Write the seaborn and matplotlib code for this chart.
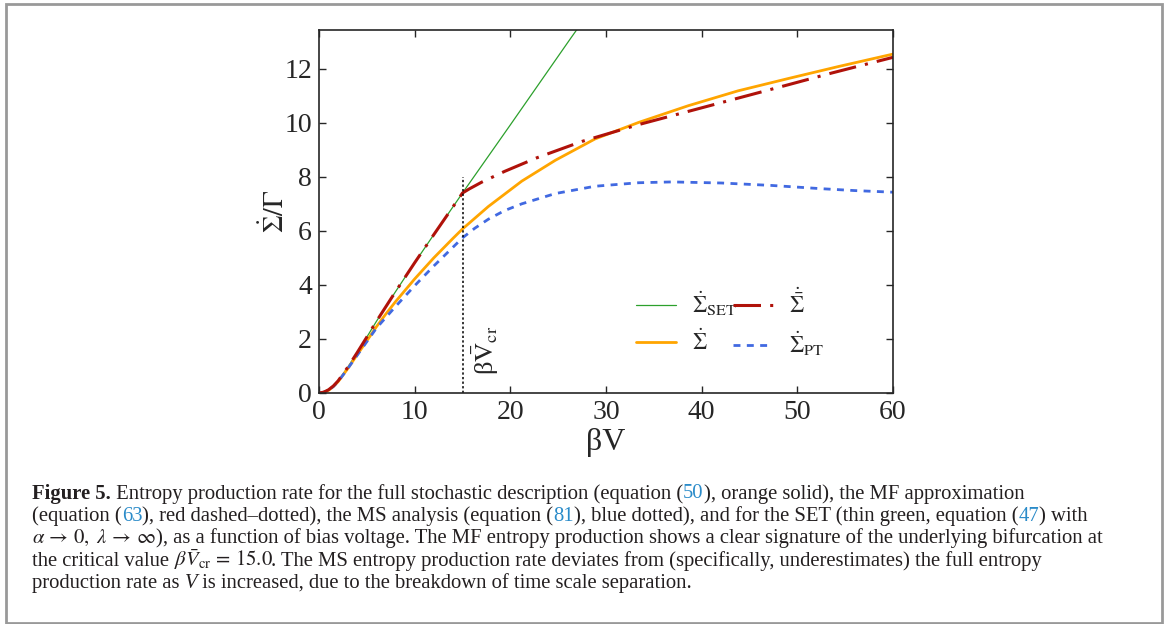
import numpy as np
import pandas as pd
import matplotlib
matplotlib.use("Agg")
import matplotlib.pyplot as plt
import matplotlib.patches as patches
import seaborn as sns

# values
x_set = [0, 0.5, 1, 1.5, 2, 3, 4, 5, 6, 8, 10, 12, 15, 20, 26.2, 28]
y_set = [0, 0.03, 0.12, 0.26, 0.45, 0.95, 1.5, 2.07, 2.65, 3.75, 4.82, 5.86, 7.4, 9.92,
         13.07, 13.97]

x_mf = [0, 0.5, 1, 1.5, 2, 3, 4, 5, 6, 8, 10, 12, 15, 15.7, 17, 19.4, 22.75, 27.5, 33.4,
        38.6, 43.8, 49.1, 53.6, 59, 60]
y_mf = [0, 0.03, 0.12, 0.26, 0.45, 0.95, 1.5, 2.07, 2.65, 3.75, 4.82, 5.86, 7.4, 7.55,
        7.8, 8.2, 8.7, 9.31, 9.93, 10.42, 10.91, 11.41, 11.84, 12.33, 12.42]

x_full = [0, 0.5, 1, 1.5, 2, 3, 4, 5, 6, 7, 8, 10, 12, 14, 15, 17.7, 21.2, 24.7, 28.85,
          33.4, 38.6, 43.8, 49.1, 54.3, 60]
y_full = [0, 0.03, 0.1, 0.24, 0.42, 0.9, 1.42, 1.93, 2.45, 2.93, 3.38, 4.22, 5.0, 5.72,
          6.07, 6.9, 7.84, 8.61, 9.4, 10.01, 10.63, 11.18, 11.64, 12.08, 12.54]

x_pt = [0, 0.5, 1, 1.5, 2, 3, 4, 5, 6, 8, 10, 12, 13.5, 15, 16.3, 17.7, 19.4, 21.2, 24.7,
        28.85, 33.4, 36.9, 42.1, 47.3, 52.5, 56, 60]
y_pt = [0, 0.03, 0.1, 0.24, 0.42, 0.9, 1.4, 1.9, 2.4, 3.2, 3.97, 4.7, 5.22, 5.74, 6.1,
        6.43, 6.75, 7.0, 7.38, 7.65, 7.78, 7.81, 7.77, 7.68, 7.56, 7.49, 7.43]

v_cr = 15.0
x_ticks = [0, 10, 20, 30, 40, 50, 60]
y_ticks = [0, 2, 4, 6, 8, 10, 12]

sns.set_style("ticks")
plt.rcParams['font.family'] = ['Liberation Serif', 'DejaVu Serif']
plt.rcParams['mathtext.fontset'] = 'stix'

W, H = 1168, 624
fig = plt.figure(figsize=(W / 100, H / 100), dpi=100)
ax = fig.add_axes([319 / W, 1 - 393 / H, 574 / W, 363.5 / H])

sns.lineplot(x=x_set, y=y_set, ax=ax, color='#2ca02c', lw=0.9)
l_set = ax.lines[-1]
sns.lineplot(x=x_full, y=y_full, ax=ax, color='#ffa500', lw=2.0)
l_full = ax.lines[-1]
sns.lineplot(x=x_pt, y=y_pt, ax=ax, color='#4169e1', lw=2.0)
l_pt = ax.lines[-1]
l_pt.set_dashes((2.5, 2.3))
sns.lineplot(x=x_mf, y=y_mf, ax=ax, color='#b0120a', lw=2.2)
l_mf = ax.lines[-1]
l_mf.set_dashes((9, 3, 1, 3))

ax.plot([v_cr, v_cr], [0, 8], color='black', lw=1.1, ls=(0, (1.5, 1.5)))
ax.text(15.8, 0.65, r'β$\bar{\mathrm{V}}_{\mathrm{cr}}$', rotation=90,
        ha='left', va='bottom', fontsize=19)

ax.set_xlim(0, 60)
ax.set_ylim(0, 13.45)
ax.set_xticks(x_ticks)
ax.set_yticks(y_ticks)
ax.tick_params(direction='in', top=True, right=True, length=5, width=1,
               labelsize=20, pad=5)
for s in ax.spines.values():
    s.set_linewidth(1.2)
ax.set_xlabel('βV', fontsize=23, labelpad=2)
ax.set_ylabel(r'$\dot{\Sigma}/\Gamma$', fontsize=20, labelpad=-4)

ax.legend([l_set, l_full, l_mf, l_pt],
          [r'$\dot{\Sigma}_{\mathrm{SET}}$', r'$\dot{\Sigma}$',
           r'$\dot{\bar{\Sigma}}$', r'$\dot{\Sigma}_{\mathrm{PT}}$'],
          ncol=2, frameon=False, fontsize=16.5, handlelength=1.75,
          handletextpad=0.7, columnspacing=-0.15, labelspacing=0.5,
          loc='center', bbox_to_anchor=(0.716, 0.191))

# caption box
fig.patches.append(patches.Rectangle((6 / W, 1 - 623 / H), 1156 / W, 619 / H,
                                     transform=fig.transFigure, fill=False,
                                     edgecolor='#999999', lw=2))

link = '#2a8bc9'
cap_fs = 14.9
lines = [
    [("Figure 5.", 'b'),
     (" Entropy production rate for the full stochastic description (equation (", 'n'),
     ("50", 'l'), ("), orange solid), the MF approximation", 'n')],
    [("(equation (", 'n'), ("63", 'l'),
     ("), red dashed–dotted), the MS analysis (equation (", 'n'), ("81", 'l'),
     ("), blue dotted), and for the SET (thin green, equation (", 'n'), ("47", 'l'),
     (") with", 'n')],
    [(r"$\alpha\,\rightarrow\,0,\ \lambda\,\rightarrow\,\infty$", 'n'),
     ("), as a function of bias voltage. The MF entropy production shows a clear "
      "signature of the underlying bifurcation at", 'n')],
    [("the critical value ", 'n'), (r"$\beta\bar{V}_{\mathrm{cr}}\,=\,15.0$", 'n'),
     (". The MS entropy production rate deviates from (specifically, underestimates) "
      "the full entropy", 'n')],
    [("production rate as ", 'n'), ("V", 'i'),
     (" is increased, due to the breakdown of time scale separation.", 'n')],
]
baselines = [498.5, 521, 543.3, 565.6, 588]

renderer = fig.canvas.get_renderer()


def props(kind):
    p = dict(fontsize=cap_fs, color='#231f20')
    if kind == 'b':
        p['fontweight'] = 'bold'
    elif kind == 'l':
        p['color'] = link
    elif kind == 'i':
        p['fontstyle'] = 'italic'
    return p


def width(s, kind):
    a = fig.text(0, 0, '|' + s + '|', **props(kind))
    b = fig.text(0, 0, '||', **props(kind))
    w = a.get_window_extent(renderer).width - b.get_window_extent(renderer).width
    a.remove()
    b.remove()
    return w


for pieces, yb in zip(lines, baselines):
    xp = 32.0
    for s, kind in pieces:
        fig.text(xp / W, 1 - yb / H, s, va='baseline', ha='left', **props(kind))
        xp += width(s, kind)

fig.savefig('out.png', dpi=100)
